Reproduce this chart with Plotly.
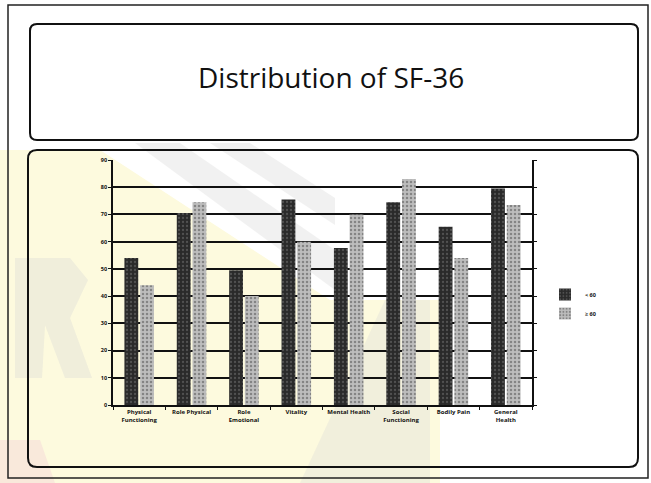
import plotly.graph_objects as go

# SF-36 domain scores by group
categories = ["Physical<br>Functioning", "Role Physical", "Role<br>Emotional", "Vitality",
              "Mental Health", "Social<br>Functioning", "Bodily Pain", "General<br>Health"]
group_a = [54, 70.5, 49.5, 75.5, 57.7, 74.5, 65.5, 79.5]
group_b = [44, 74.5, 40, 60, 70, 83, 54, 73.5]
series_names = ["< 60", "≥ 60"]
y_ticks = [0, 10, 20, 30, 40, 50, 60, 70, 80, 90]

W, H = 651, 483
L, R, T, B = 113, 119, 160, 78
PW, PH = W - L - R, H - T - B


def px(x):
    return (x - L) / PW


def py(y):
    return (H - B - y) / PH


def rounded_box(x0, y0, x1, y1, r):
    return (f"M {px(x0 + r)} {py(y0)} L {px(x1 - r)} {py(y0)} "
            f"Q {px(x1)} {py(y0)} {px(x1)} {py(y0 + r)} "
            f"L {px(x1)} {py(y1 - r)} Q {px(x1)} {py(y1)} {px(x1 - r)} {py(y1)} "
            f"L {px(x0 + r)} {py(y1)} Q {px(x0)} {py(y1)} {px(x0)} {py(y1 - r)} "
            f"L {px(x0)} {py(y0 + r)} Q {px(x0)} {py(y0)} {px(x0 + r)} {py(y0)} Z")


def poly(points):
    return "M " + " L ".join(f"{px(x)} {py(y)}" for x, y in points) + " Z"


def bg_shape(points, color):
    return dict(type="path", path=poly(points), xref="paper", yref="paper",
                fillcolor=color, line=dict(width=0), layer="below")


fig = go.Figure()
fig.add_trace(go.Bar(
    x=categories, y=group_a, name=series_names[0],
    marker=dict(color="#2a2a2a", line=dict(width=0),
                pattern=dict(shape=".", fgcolor="#777777", size=4, solidity=0.25)),
))
fig.add_trace(go.Bar(
    x=categories, y=group_b, name=series_names[1],
    marker=dict(color="#bdbdbd", line=dict(width=0),
                pattern=dict(shape=".", fgcolor="#4a4a4a", size=4, solidity=0.3)),
))

yellow = "rgb(253,250,222)"
grey = "rgba(215,215,215,0.35)"
shapes = [
    # faint watermark behind the chart
    bg_shape([(0, 150), (100, 150), (330, 300), (440, 300), (440, 483), (0, 483)], yellow),
    bg_shape([(135, 143), (180, 143), (335, 250), (335, 290)], grey),
    bg_shape([(210, 143), (250, 143), (335, 198), (335, 225)], grey),
    bg_shape([(15, 258), (70, 258), (88, 280), (70, 318), (92, 378), (65, 378), (45, 325), (42, 378), (15, 378)], grey),
    bg_shape([(300, 483), (385, 300), (430, 300), (430, 483)], "rgba(215,215,215,0.3)"),
    bg_shape([(0, 440), (40, 440), (55, 483), (0, 483)], "rgba(245,215,215,0.5)"),
    # outer frame
    dict(type="rect", x0=px(8), x1=px(648), y0=py(5), y1=py(478),
         xref="paper", yref="paper", line=dict(color="#222", width=1.5), layer="above"),
    # title box
    dict(type="path", path=rounded_box(30, 24, 638, 140, 7),
         xref="paper", yref="paper", line=dict(color="#111", width=2)),
    # chart box
    dict(type="path", path=rounded_box(28, 150, 638, 467, 9),
         xref="paper", yref="paper", line=dict(color="#111", width=2)),
]

fig.update_layout(
    width=W, height=H,
    margin=dict(l=L, r=R, t=T, b=B),
    paper_bgcolor="white",
    plot_bgcolor="rgba(0,0,0,0)",
    barmode="group",
    bargap=0.4,
    bargroupgap=0.12,
    showlegend=True,
    legend=dict(x=px(545), y=py(280), xanchor="left", yanchor="top",
                font=dict(size=5.5, color="#111", family="Open Sans", weight="bold"),
                bgcolor="rgba(0,0,0,0)", itemwidth=30, tracegroupgap=0),
    font=dict(family="Open Sans", color="#111"),
    shapes=shapes,
    annotations=[dict(text="Distribution of SF-36", x=px(331), y=py(77), xref="paper", yref="paper",
                      showarrow=False, font=dict(size=28, family="Open Sans", color="#111"),
                      xanchor="center", yanchor="middle")],
)
fig.update_yaxes(range=[0, 90], tickvals=y_ticks, showgrid=True, gridcolor="#111", gridwidth=1.5,
                 showline=True, linecolor="#111", linewidth=1.5, mirror="ticks",
                 ticks="outside", ticklen=3, tickcolor="#111",
                 tickfont=dict(size=5.5, family="Open Sans", color="#111", weight="bold"), zeroline=False)
fig.update_xaxes(showline=True, linecolor="#111", linewidth=2, ticks="outside", tickson="boundaries",
                 ticklen=3, tickcolor="#111", tickangle=0,
                 tickfont=dict(size=6, family="Open Sans", color="#111", weight="bold"))

fig.write_html("out.html")
